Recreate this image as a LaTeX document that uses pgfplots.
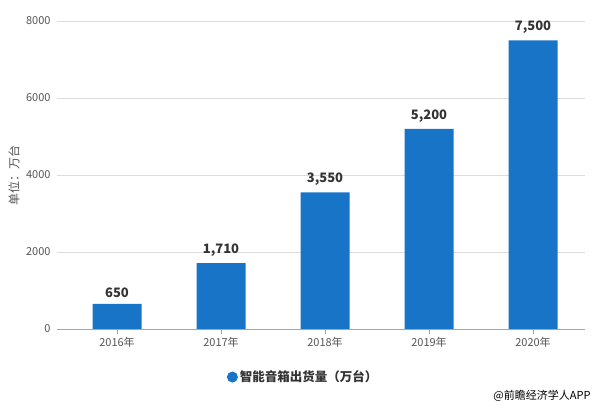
\documentclass[border=0pt]{standalone}
\usepackage{pgfplots}
\pgfplotsset{compat=1.18}
\usepackage{fontspec}
\setmainfont{Noto Sans CJK SC}
\definecolor{barblue}{HTML}{1874C6}
\definecolor{gridgray}{HTML}{DCDCDC}
\definecolor{ticktext}{HTML}{555555}
\definecolor{valtext}{HTML}{333333}
\begin{document}
\begin{tikzpicture}
\path[use as bounding box] (0,0) rectangle (600bp,408bp);
\begin{axis}[
  at={(65bp,79bp)}, anchor=south west,
  scale only axis, width=520bp, height=308bp,
  xmin=-0.5, xmax=4.5, ymin=0, ymax=8000,
  xtick={0,1,2,3,4},
  xticklabels={2016年,2017年,2018年,2019年,2020年},
  ytick={0,2000,4000,6000,8000},
  /pgf/number format/assume math mode=true,
  yticklabel style={/pgf/number format/fixed, /pgf/number format/1000 sep={}, font=\fontsize{11bp}{13bp}\selectfont, text=ticktext, xshift=-6bp},
  xticklabel style={font=\fontsize{11bp}{13bp}\selectfont, text=ticktext},
  scaled y ticks=false,
  ymajorgrids, grid style={gridgray, line width=0.8bp},
  axis line style={draw=none},
  axis x line*=bottom,
  x axis line style={draw=gray!70, line width=0.8bp},
  y axis line style={draw=none},
  x tick style={draw=gray!70, line width=0.8bp},
  major tick length=5bp,
  tick align=outside,
  ytick style={draw=none},
  ylabel={单位：万台},
  ylabel style={at={(axis description cs:-0.098,0.5)}, anchor=center, font=\fontsize{12bp}{14bp}\selectfont, text=ticktext},
  legend style={at={(axis description cs:0.458,-0.156)}, anchor=center, draw=none, fill=none, font=\fontsize{12.5bp}{14bp}\selectfont\bfseries, text=valtext, legend cell align=left},
  legend image code/.code={\fill[barblue] (0.05cm,0) circle (5.5bp);},
  clip=false,
]
\addplot[ybar, bar width=49bp, fill=barblue, draw=none,
  nodes near coords={\pgfmathprintnumber[fixed, 1000 sep={,}]{\pgfplotspointmeta}},
  nodes near coords style={font=\fontsize{13bp}{15bp}\selectfont\bfseries, text=valtext, yshift=3bp},
] coordinates {(0,650) (1,1710) (2,3550) (3,5200) (4,7500)};
\addlegendentry{智能音箱出货量（万台）}
\draw[gridgray, line width=0.8bp] (axis cs:-0.58,2000) -- (axis cs:-0.5,2000);
\draw[gridgray, line width=0.8bp] (axis cs:-0.58,4000) -- (axis cs:-0.5,4000);
\draw[gridgray, line width=0.8bp] (axis cs:-0.58,6000) -- (axis cs:-0.5,6000);
\draw[gridgray, line width=0.8bp] (axis cs:-0.58,8000) -- (axis cs:-0.5,8000);
\draw[gray!70, line width=0.8bp] (axis cs:-0.58,0) -- (axis cs:-0.5,0);
\end{axis}
\node[font=\fontsize{11bp}{13bp}\selectfont, text=black, anchor=east] at (594bp,12bp) {@前瞻经济学人APP};
\end{tikzpicture}
\end{document}
